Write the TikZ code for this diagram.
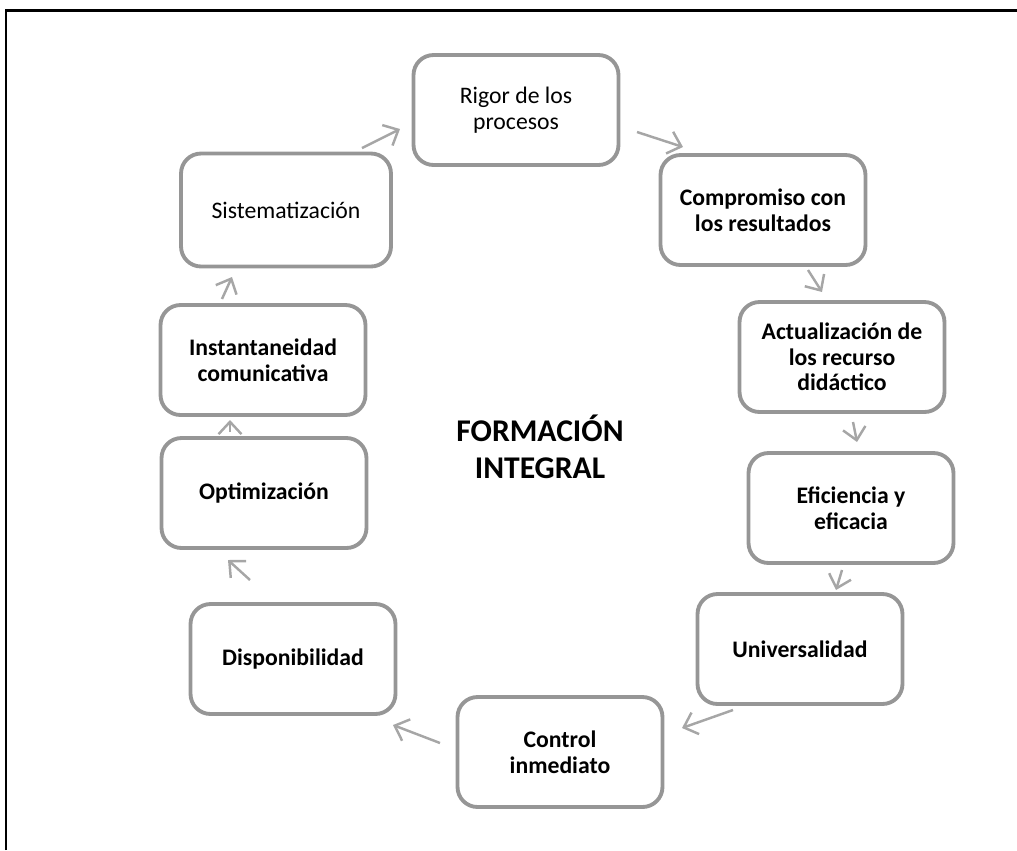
\documentclass[tikz,border=0pt]{standalone}
\usepackage{fontspec}
\setmainfont{Carlito}
\usepackage{xcolor}
\usetikzlibrary{arrows.meta, positioning}
\definecolor{boxgray}{RGB}{150,150,150}
\definecolor{arrgray}{RGB}{166,166,166}

\begin{document}
\begin{tikzpicture}[x=0.02cm, y=-0.02cm,
	caja/.style={draw=boxgray, line width=2.2pt, rounded corners=0.4cm, minimum width=4.1cm, minimum height=2.2cm, align=center, inner sep=2pt, font=\fontsize{13.5}{14.6}\selectfont},
	negrita/.style={caja, font=\fontsize{13.5}{14.6}\selectfont\bfseries},
	flecha/.style={draw=arrgray, line width=1.4pt, -{Straight Barb[length=7pt,width=13pt]}}]
			\useasboundingbox (0,0) rectangle (1017,850);
			% Frame:
			\draw[line width=1.4pt] (6,850) -- (6,10.5) -- (1017,10.5);
			% Boxes of the cycle:
			\node[caja](N1) at (516,110){Rigor de los\\procesos};
			\node[negrita](N2) at (763,210){Compromiso con\\los resultados};
			\node[negrita](N3) at (842,357){Actualizaci\'on de\\los recurso\\did\'actico};
			\node[negrita](N4) at (851,508){Eficiencia y\\eficacia};
			\node[negrita](N5) at (800,649){Universalidad};
			\node[negrita](N6) at (560,752){Control\\inmediato};
			\node[negrita](N7) at (293,659){Disponibilidad};
			\node[negrita](N8) at (264,493){Optimizaci\'on};
			\node[negrita](N9) at (263,360){Instantaneidad\\comunicativa};
			\node[caja, minimum width=4.2cm, minimum height=2.26cm](N10) at (286,210){Sistematizaci\'on};
			% Centre text:
			\node[font=\fontsize{18}{21}\selectfont\bfseries, align=center](N11) at (540,447){FORMACI\'ON\\INTEGRAL};
			% Arrows:
			\coordinate (A1) at (637,132); \coordinate (B1) at (683,147);
			\coordinate (A2) at (808,270); \coordinate (B2) at (822,292);
			\coordinate (A3) at (853,422); \coordinate (B3) at (857,442);
			\coordinate (A4) at (842,570); \coordinate (B4) at (836,590);
			\coordinate (A5) at (733,710); \coordinate (B5) at (682,728);
			\coordinate (A6) at (440,743); \coordinate (B6) at (393,725);
			\coordinate (A7) at (250,580); \coordinate (B7) at (228,560);
			\coordinate (A8) at (230,432); \coordinate (B8) at (230,420);
			\coordinate (A9) at (222,299); \coordinate (B9) at (232,277);
			\coordinate (A10) at (362,148); \coordinate (B10) at (400,129);
			\draw[flecha] (A1) -- (B1);
			\draw[flecha] (A2) -- (B2);
			\draw[flecha] (A3) -- (B3);
			\draw[flecha] (A4) -- (B4);
			\draw[flecha] (A5) -- (B5);
			\draw[flecha] (A6) -- (B6);
			\draw[flecha] (A7) -- (B7);
			\draw[flecha] (A8) -- (B8);
			\draw[flecha] (A9) -- (B9);
			\draw[flecha] (A10) -- (B10);
		\end{tikzpicture}
\end{document}
